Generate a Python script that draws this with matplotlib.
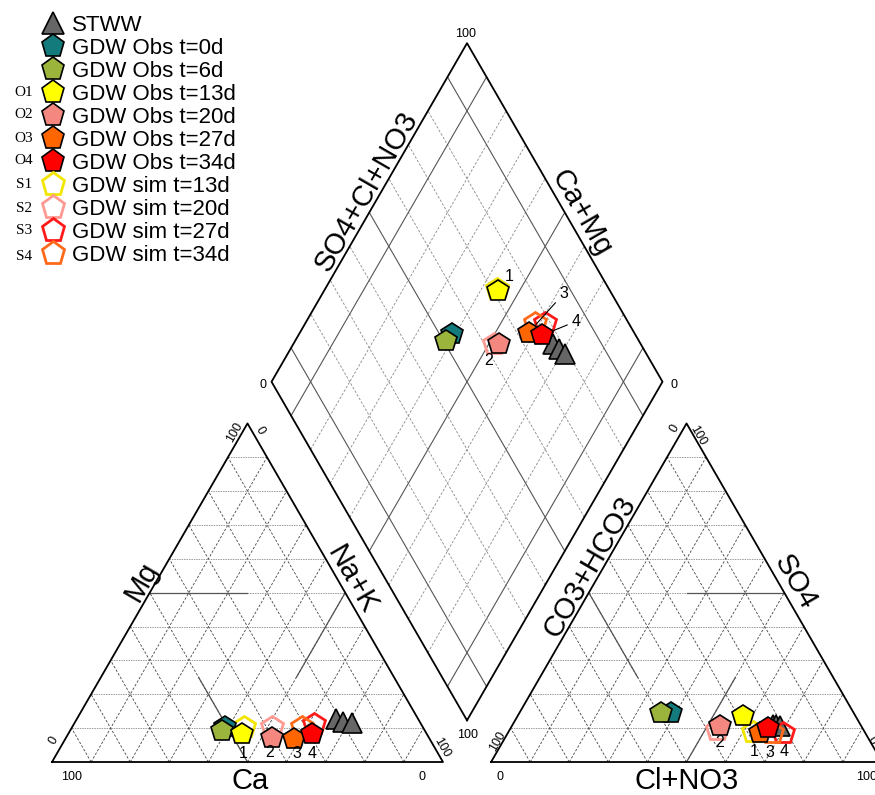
import matplotlib.pyplot as plt
from matplotlib.lines import Line2D
import numpy as np

plt.rcParams['font.family'] = ['Liberation Sans', 'DejaVu Sans']

# porcentajes (meq %) leidos del diagrama
# cationes: Ca, Mg (Na+K = resto) ; aniones: Cl+NO3, SO4 (CO3+HCO3 = resto)
stww_ca = [21.0, 19.7, 17.5]
stww_mg = [12.7, 11.8, 11.5]
stww_cl = [66.5, 67.5, 68.5]
stww_so4 = [11.0, 10.8, 10.6]

obs_names = ["GDW Obs t=0d", "GDW Obs t=6d", "GDW Obs t=13d",
             "GDW Obs t=20d", "GDW Obs t=27d", "GDW Obs t=34d"]
obs_ca = [50.6, 52.0, 47.4, 40.1, 34.8, 29.5]
obs_mg = [10.3, 9.2, 8.2, 7.2, 6.7, 8.2]
obs_cl = [38.7, 36.2, 57.6, 53.2, 64.5, 65.9]
obs_so4 = [14.6, 14.5, 13.6, 10.7, 8.5, 10.1]
obs_colors = ['#137b7b', '#9bb53c', '#ffff00', '#f4877f', '#ff6600', '#ff0000']

sim_names = ["GDW sim t=13d", "GDW sim t=20d", "GDW sim t=27d", "GDW sim t=34d"]
sim_ca = [45.8, 38.6, 27.5, 30.9]
sim_mg = [10.2, 10.2, 11.2, 10.3]
sim_cl = [62.6, 53.0, 70.3, 67.6]
sim_so4 = [8.9, 9.5, 8.5, 8.6]
sim_colors = ['#f2e600', '#ff9a92', '#ff1a1a', '#ff6a1a']

obs_tags = ["O1", "O2", "O3", "O4"]
sim_tags = ["S1", "S2", "S3", "S4"]
num_labels = ["1", "2", "3", "4"]

H = np.sqrt(3) / 2
G = 12.3          # hueco entre triangulos
OFF = 100 + G


def cat_xy(ca, mg):
    ca = np.asarray(ca, float); mg = np.asarray(mg, float)
    na = 100 - ca - mg
    return na + mg / 2, mg * H


def an_xy(cl, so4):
    cl = np.asarray(cl, float); so4 = np.asarray(so4, float)
    return OFF + cl + so4 / 2, so4 * H


def dia_xy(ca, mg, cl, so4):
    b = np.asarray(ca, float) + np.asarray(mg, float)
    a = np.asarray(cl, float) + np.asarray(so4, float)
    return 100 + G / 2 + (a - b) / 2, G * H + (a + b) * H


def all_xy(ca, mg, cl, so4):
    x1, y1 = cat_xy(ca, mg)
    x2, y2 = an_xy(cl, so4)
    x3, y3 = dia_xy(ca, mg, cl, so4)
    return np.concatenate([np.atleast_1d(x1), np.atleast_1d(x2), np.atleast_1d(x3)]), \
        np.concatenate([np.atleast_1d(y1), np.atleast_1d(y2), np.atleast_1d(y3)])


fig = plt.figure(figsize=(8.75, 7.95), dpi=100)
ax = fig.add_axes([0, 0, 1, 1])
ax.set_xlim(-13.3, 210.5)
ax.set_ylim(-8.44, 194.9)
ax.axis('off')

diag = dict(color='#444444', lw=0.6, ls=(0, (3, 2)), zorder=1)
horiz = dict(color='#999999', lw=0.7, ls=(0, (1.5, 1)), zorder=1)
edge = dict(color='black', lw=1.3, zorder=2)
cls = dict(color='#555555', lw=0.9, zorder=1)

# ---- triangulos ----
for x0 in [0, OFF]:
    ax.plot([x0, x0 + 100, x0 + 50, x0], [0, 0, 100 * H, 0], **edge)
    for i in range(10, 100, 10):
        ax.plot([x0 + i / 2, x0 + 100 - i / 2], [i * H, i * H], **horiz)
        ax.plot([x0 + i, x0 + i + (100 - i) / 2], [0, (100 - i) * H], **diag)
        ax.plot([x0 + 100 - i, x0 + (100 - i) / 2], [0, (100 - i) * H], **diag)

# lineas de clasificacion (cationes)
for p, q in [((50, 50), (25, 50)), ((50, 0), (50, 25)), ((0, 50), (25, 25))]:
    xa, ya = cat_xy(*p)
    xb, yb = cat_xy(*q)
    ax.plot([xa, xb], [ya, yb], **cls)
# (aniones)
for p, q in [((50, 50), (25, 50)), ((50, 0), (50, 25)), ((0, 50), (25, 25))]:
    xa, ya = an_xy(*p)
    xb, yb = an_xy(*q)
    ax.plot([xa, xb], [ya, yb], **cls)

# ---- rombo ----
dx, dy = dia_xy([0, 100, 100, 0, 0], [0, 0, 0, 0, 0], [0, 0, 100, 100, 0], [0, 0, 0, 0, 0])
ax.plot(dx, dy, **edge)
for i in range(10, 100, 10):
    sty = dict(color='#555555', lw=0.8, zorder=1) if i in (10, 50, 90) else \
        dict(color='#888888', lw=0.6, ls=(0, (3, 2)), zorder=1)
    xa, ya = dia_xy([i, i], [0, 0], [0, 100], [0, 0])
    ax.plot(xa, ya, **sty)
    xb, yb = dia_xy([0, 100], [0, 0], [i, i], [0, 0])
    ax.plot(xb, yb, **sty)

# ---- numeros de los ejes ----
tk = dict(fontsize=9, ha='center', va='center')
ax.text(5.1, -3.8, "100", **tk)
ax.text(94.6, -3.8, "0", **tk)
ax.text(0.3, 5.6, "0", rotation=60, **tk)
ax.text(46.8, 84.4, "100", rotation=60, **tk)
ax.text(53.2, 84.9, "0", rotation=-60, **tk)
ax.text(99.7, 3.6, "100", rotation=-60, **tk)
ax.text(114.7, -3.8, "0", **tk)
ax.text(208.4, -3.8, "100", **tk)
ax.text(114.1, 5.2, "100", rotation=60, **tk)
ax.text(159.3, 85.4, "0", rotation=60, **tk)
ax.text(165.3, 83.6, "100", rotation=-60, **tk)
ax.text(209.8, 5.6, "0", rotation=-60, **tk)
ax.text(105.9, 186.3, "100", **tk)
ax.text(54.0, 96.4, "0", **tk)
ax.text(159.0, 96.4, "0", **tk)
ax.text(106.4, 6.9, "100", **tk)

# ---- titulos de los ejes ----
lb = dict(fontsize=21, ha='center', va='center')
ax.text(50.6, -4.9, "Ca", **lb)
ax.text(162.4, -4.9, "Cl+NO3", **lb)
ax.text(22.9, 46.1, "Mg", rotation=60, **lb)
ax.text(76.6, 46.5, "Na+K", rotation=-60, **lb)
ax.text(137.6, 49.9, "CO3+HCO3", rotation=60, **lb)
ax.text(190.0, 46.1, "SO4", rotation=-60, **lb)
ax.text(80.5, 146.0, "SO4+Cl+NO3", rotation=60, **lb)
ax.text(135.5, 140.3, "Ca+Mg", rotation=-60, **lb)

# ---- puntos ----
PMS = 16.5
x, y = all_xy(stww_ca, stww_mg, stww_cl, stww_so4)
ax.plot(x, y, ls='none', marker='^', ms=14, mfc='#666666', mec='black', mew=1.2, zorder=3)

for i in range(4):
    x, y = all_xy(sim_ca[i], sim_mg[i], sim_cl[i], sim_so4[i])
    ax.plot(x, y, ls='none', marker='p', ms=PMS, mfc='none', mec=sim_colors[i], mew=2, zorder=4)

for i in range(6):
    x, y = all_xy(obs_ca[i], obs_mg[i], obs_cl[i], obs_so4[i])
    ax.plot(x, y, ls='none', marker='p', ms=PMS, mfc=obs_colors[i], mec='black', mew=1.2, zorder=5)

# etiquetas numeradas (desplazamientos en pixeles: dx, dy hacia abajo)
off_left = [(2, 19), (-2, 15), (3, 14), (1, 19)]
off_right = [(11, 36), (0, 17), (10, 19), (16, 24)]
off_dia = [(12, -15), (-11, 17), (35, -39), (34, -14)]
for k in range(4):
    j = k + 2
    px, py = cat_xy(obs_ca[j], obs_mg[j])
    ax.annotate(num_labels[k], (px, py), xytext=(off_left[k][0] * 0.72, -off_left[k][1] * 0.72),
                textcoords='offset points', fontsize=11.5, ha='center', va='center', zorder=6)
    px, py = an_xy(obs_cl[j], obs_so4[j])
    ax.annotate(num_labels[k], (px, py), xytext=(off_right[k][0] * 0.72, -off_right[k][1] * 0.72),
                textcoords='offset points', fontsize=11.5, ha='center', va='center', zorder=6)
    px, py = dia_xy(obs_ca[j], obs_mg[j], obs_cl[j], obs_so4[j])
    arr = dict(arrowstyle='-', lw=0.8, color='black', shrinkA=1, shrinkB=8) if k >= 2 else None
    ax.annotate(num_labels[k], (px, py), xytext=(off_dia[k][0] * 0.72, -off_dia[k][1] * 0.72),
                textcoords='offset points', fontsize=11.5, ha='center', va='center',
                arrowprops=arr, zorder=6)

# ---- leyenda ----
LMS = 17
handles = [Line2D([], [], ls='none', marker='^', ms=16, mfc='#666666', mec='black', mew=1.2)]
names = ["STWW"]
for i in range(6):
    handles.append(Line2D([], [], ls='none', marker='p', ms=LMS, mfc=obs_colors[i], mec='black', mew=1.2))
    names.append(obs_names[i])
for i in range(4):
    handles.append(Line2D([], [], ls='none', marker='p', ms=LMS, mfc='white', mec=sim_colors[i], mew=2))
    names.append(sim_names[i])
fig.legend(handles, names, loc='upper left', bbox_to_anchor=(0.045, 0.9815), frameon=False,
           fontsize=16, labelspacing=0.09, handlelength=1.2, handletextpad=0.25, borderpad=0,
           borderaxespad=0)

tag_y = [92, 115, 138, 161, 185, 208, 231, 256]
for t, yy in zip(obs_tags + sim_tags, tag_y):
    fig.text(24 / 875, 1 - yy / 795, t, fontsize=11, ha='center', va='center',
             family=['Liberation Serif', 'DejaVu Serif'])

fig.savefig('out.png', dpi=100)
